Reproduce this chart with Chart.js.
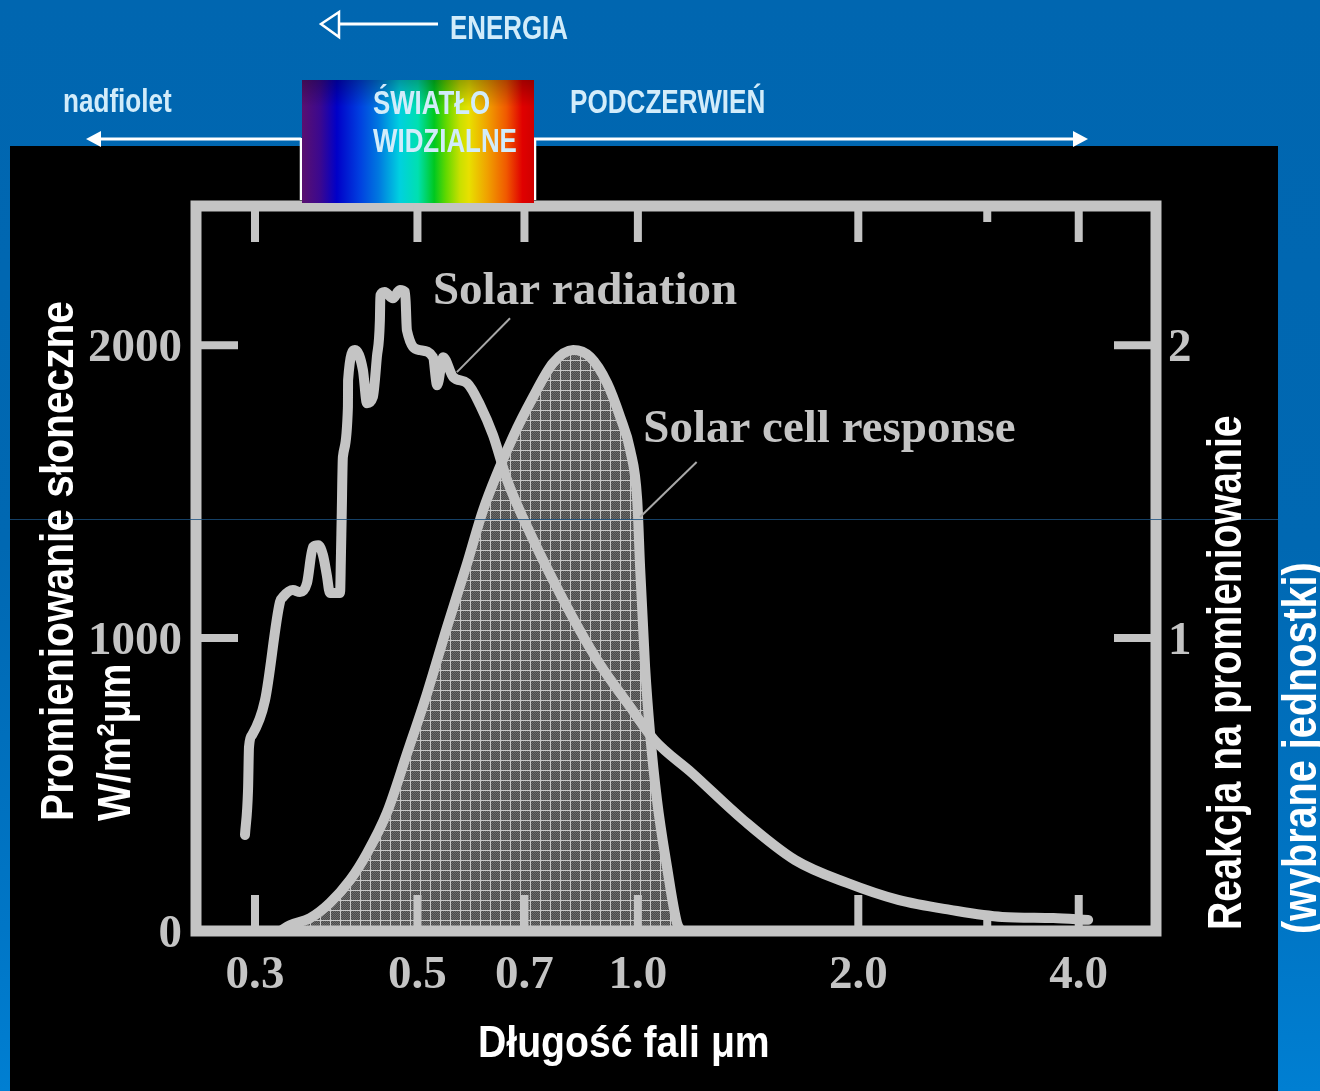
<!DOCTYPE html>
<html>
<head>
<meta charset="utf-8">
<script src="https://cdn.jsdelivr.net/npm/chart.js@4.4.1/dist/chart.umd.min.js"></script>
<style>
  html, body { margin: 0; padding: 0; }
  body {
    width: 1320px; height: 1091px; overflow: hidden; position: relative;
    background: linear-gradient(to bottom, #0066b0 0%, #0068b2 50%, #0076c6 85%, #007fd2 100%);
    font-family: "Liberation Sans", Arial, sans-serif;
  }
  #panel { position: absolute; left: 10px; top: 146px; width: 1268px; height: 945px; background: #000; }
  #chart { position: absolute; left: 0; top: 0; }
  #seam { position: absolute; left: 10px; top: 519px; width: 1268px; height: 1px; background: #1a5080; opacity: 0.8; }
  #arrows { position: absolute; left: 0; top: 0; }
  #spectrum {
    position: absolute; left: 302px; top: 80px; width: 232px; height: 123px;
    background:
      linear-gradient(to bottom, rgba(0,0,0,0.28) 0%, rgba(0,0,0,0) 22%),
      linear-gradient(to right, #5a1070 0%, #3a0890 8%, #0000c8 15%, #0040e0 25%, #0078e0 33%,
        #00d0e0 42%, #00e0b0 50%, #00c820 57%, #60d800 62%, #c8e000 68%, #e8e000 72%,
        #f0a000 80%, #f05a00 88%, #e00000 95%, #d00000 100%);
  }
  .lbl { position: absolute; white-space: nowrap; font-weight: bold; line-height: 1; transform-origin: 0 0; }
  .top { color: #d2ecfa; font-size: 34px; }
  .ax { color: #fff; }
</style>
</head>
<body>
<div id="panel"></div>
<canvas id="chart" width="1320" height="1091"></canvas>
<div id="seam"></div>
<svg id="arrows" width="1320" height="220">
  <line x1="101" y1="139" x2="301" y2="139" stroke="#fff" stroke-width="3"/>
  <polygon points="86,139 101,131 101,147" fill="#fff"/>
  <line x1="534" y1="139" x2="1074" y2="139" stroke="#fff" stroke-width="3"/>
  <polygon points="1088,139 1073,131 1073,147" fill="#fff"/>
  <line x1="301" y1="138" x2="301" y2="200" stroke="#fff" stroke-width="2.5"/>
  <line x1="535" y1="138" x2="535" y2="200" stroke="#fff" stroke-width="2.5"/>
  <polygon points="321,24 339,12 339,37" fill="none" stroke="#fff" stroke-width="2.5"/>
  <line x1="339" y1="24" x2="438" y2="24" stroke="#fff" stroke-width="3"/>
</svg>
<div id="spectrum"></div>

<div class="lbl top" style="left:450px; top:10px;" data-w="118">ENERGIA</div>
<div class="lbl top" style="left:63px; top:83px;" data-w="109">nadfiolet</div>
<div class="lbl top" style="left:373px; top:85px;" data-w="117">ŚWIATŁO</div>
<div class="lbl top" style="left:373px; top:123px;" data-w="144">WIDZIALNE</div>
<div class="lbl top" style="left:570px; top:84px;" data-w="195">PODCZERWIEŃ</div>

<div class="lbl ax" style="left:34px; top:821px; font-size:46px;" data-w="520" data-rot="1">Promieniowanie słoneczne</div>
<div class="lbl ax" style="left:91px; top:821px; font-size:46px;" data-w="157" data-rot="1">W/m²μm</div>
<div class="lbl ax" style="left:1201px; top:930px; font-size:48px;" data-w="515" data-rot="1">Reakcja na promieniowanie</div>
<div class="lbl ax" style="left:1276px; top:934px; font-size:48px;" data-w="372" data-rot="1">(wybrane jednostki)</div>
<div class="lbl ax" style="left:478px; top:1020px; font-size:44px;" data-w="292">Długość fali μm</div>

<script>
// axis ranges and ticks
const xMin = 0.2492, xMax = 5.10;
const yMax = 2475, y1Max = 2.475;
const xTicks = [0.3, 0.5, 0.7, 1.0, 2.0, 3.0, 4.0];
const xLabelled = [0.3, 0.5, 0.7, 1.0, 2.0, 4.0];
const yTicks = [0, 1000, 2000];
const y1Ticks = [1, 2];

// solar spectral irradiance, W/m2um (left axis)
const radWave = [0.2907, 0.2935, 0.2944, 0.2972, 0.3096, 0.3245, 0.3275, 0.338, 0.3456, 0.3533,
  0.360, 0.366, 0.3715, 0.376, 0.3797, 0.392, 0.393, 0.394, 0.3955, 0.4018,
  0.402, 0.4108, 0.4212, 0.4266, 0.4346, 0.4401, 0.4443, 0.445, 0.451, 0.4628,
  0.4731, 0.481, 0.4837, 0.504, 0.525, 0.532, 0.542, 0.5595, 0.5847, 0.609,
  0.634, 0.663, 0.7125, 0.791, 0.880, 0.976, 1.053, 1.186, 1.393, 1.640,
  1.931, 2.267, 2.671, 3.144, 3.693, 4.12];
const radValue = [328, 481, 628, 669, 788, 1123, 1140, 1164, 1157, 1188,
  1311, 1317, 1283, 1215, 1154, 1154, 1270, 1413, 1618, 1788,
  1880, 1983, 1915, 1802, 1823, 1959, 2085, 2170, 2181, 2160,
  2188, 2181, 2051, 1983, 1959, 1863, 1959, 1891, 1870, 1795,
  1693, 1539, 1358, 1130, 925, 765, 652, 539, 379, 242,
  164, 106, 72, 48, 44, 38];

// solar cell response, arbitrary units (right axis)
const cellWave = [0.325, 0.3348, 0.3567, 0.3797, 0.4045, 0.4267, 0.4541, 0.484, 0.5154, 0.5488,
  0.5847, 0.6147, 0.675, 0.7193, 0.766, 0.8158, 0.861, 0.908, 0.946, 0.976,
  0.998, 1.007, 1.023, 1.039, 1.062, 1.096, 1.131, 1.147];
const cellValue = [0, 0.02, 0.044, 0.096, 0.174, 0.266, 0.403, 0.607, 0.812, 1.038,
  1.256, 1.437, 1.686, 1.823, 1.939, 1.983, 1.959, 1.870, 1.754, 1.642,
  1.471, 1.242, 0.901, 0.676, 0.447, 0.218, 0.027, 0];

// in-plot notes: text anchor and leader line, in data units (x, left y)
const noteText = ["Solar radiation", "Solar cell response"];
const noteAt = [[0.525, 2181], [1.017, 1710]];
const noteLine = [[0.669, 2092, 0.566, 1908], [1.203, 1601, 1.007, 1413]];

const gray = "#c4c4c4";
const serif = "'Liberation Serif', 'DejaVu Serif', serif";

// stretch the html labels to the widths they have in the picture
document.querySelectorAll(".lbl").forEach((el) => {
  const s = Number(el.dataset.w) / el.offsetWidth;
  el.style.transform = (el.dataset.rot ? "rotate(-90deg) " : "") + "scaleX(" + s + ")";
});

function hatch() {
  const c = document.createElement("canvas");
  c.width = 10;
  c.height = 10;
  const g = c.getContext("2d");
  for (let i = 0; i < 10; i++) {
    for (let j = 0; j < 10; j++) {
      g.fillStyle = (i + j) % 2 ? "#4a4a4a" : "#6c6c6c";
      g.fillRect(i, j, 1, 1);
    }
  }
  g.fillStyle = "#c8c8c8";
  g.fillRect(0, 0, 10, 1);
  g.fillRect(0, 0, 1, 10);
  return g.createPattern(c, "repeat");
}

const framePlugin = {
  id: "frame",
  afterDatasetsDraw(chart) {
    const { ctx, chartArea: a, scales } = chart;
    ctx.save();
    ctx.strokeStyle = gray;
    ctx.lineWidth = 11;
    ctx.strokeRect(a.left, a.top, a.right - a.left, a.bottom - a.top);

    // inward tick marks
    ctx.lineWidth = 8;
    xTicks.forEach((v) => {
      const x = scales.x.getPixelForValue(v);
      const len = xLabelled.includes(v) ? 36 : 16;
      ctx.beginPath(); ctx.moveTo(x, a.top); ctx.lineTo(x, a.top + len); ctx.stroke();
      ctx.beginPath(); ctx.moveTo(x, a.bottom); ctx.lineTo(x, a.bottom - len); ctx.stroke();
    });
    yTicks.filter((v) => v > 0).forEach((v) => {
      const y = scales.y.getPixelForValue(v);
      ctx.beginPath(); ctx.moveTo(a.left, y); ctx.lineTo(a.left + 42, y); ctx.stroke();
    });
    y1Ticks.forEach((v) => {
      const y = scales.y1.getPixelForValue(v);
      ctx.beginPath(); ctx.moveTo(a.right, y); ctx.lineTo(a.right - 42, y); ctx.stroke();
    });

    // notes with leader lines
    ctx.lineWidth = 2;
    ctx.strokeStyle = "#a8a8a8";
    noteLine.forEach((l) => {
      ctx.beginPath();
      ctx.moveTo(scales.x.getPixelForValue(l[0]), scales.y.getPixelForValue(l[1]));
      ctx.lineTo(scales.x.getPixelForValue(l[2]), scales.y.getPixelForValue(l[3]));
      ctx.stroke();
    });
    ctx.fillStyle = gray;
    ctx.font = "bold 47px " + serif;
    ctx.textBaseline = "middle";
    ctx.textAlign = "left";
    noteText.forEach((t, i) => {
      ctx.fillText(t, scales.x.getPixelForValue(noteAt[i][0]), scales.y.getPixelForValue(noteAt[i][1]));
    });
    ctx.restore();
  },
};

const tickFont = { family: serif, size: 47, weight: "bold" };

new Chart(document.getElementById("chart"), {
  type: "line",
  data: {
    datasets: [
      {
        label: "Solar radiation",
        data: radWave.map((w, i) => ({ x: w, y: radValue[i] })),
        yAxisID: "y",
        borderColor: gray,
        borderWidth: 10,
        borderJoinStyle: "round",
        borderCapStyle: "round",
        pointRadius: 0,
        cubicInterpolationMode: "monotone",
        fill: false,
      },
      {
        label: "Solar cell response",
        data: cellWave.map((w, i) => ({ x: w, y: cellValue[i] })),
        yAxisID: "y1",
        borderColor: gray,
        borderWidth: 10,
        borderJoinStyle: "round",
        pointRadius: 0,
        cubicInterpolationMode: "monotone",
        fill: "origin",
        backgroundColor: hatch(),
      },
    ],
  },
  options: {
    responsive: false,
    animation: false,
    devicePixelRatio: 1,
    layout: { padding: { top: 206, left: 0, right: 0, bottom: 0 } },
    plugins: { legend: { display: false }, tooltip: { enabled: false } },
    scales: {
      x: {
        type: "logarithmic",
        min: xMin,
        max: xMax,
        afterBuildTicks: (s) => { s.ticks = xTicks.map((v) => ({ value: v })); },
        afterFit: (s) => { s.height = 160; },
        grid: { display: false, drawTicks: false },
        border: { display: false },
        ticks: {
          color: gray,
          font: tickFont,
          padding: 17,
          autoSkip: false,
          maxRotation: 0,
          callback: (v) => (xLabelled.includes(v) ? v.toFixed(1) : ""),
        },
      },
      y: {
        position: "left",
        min: 0,
        max: yMax,
        afterBuildTicks: (s) => { s.ticks = yTicks.map((v) => ({ value: v })); },
        afterFit: (s) => { s.width = 196; },
        grid: { display: false, drawTicks: false },
        border: { display: false },
        ticks: { color: gray, font: tickFont, padding: 14, labelOffset: 4, callback: (v) => String(v) },
      },
      y1: {
        position: "right",
        min: 0,
        max: y1Max,
        afterBuildTicks: (s) => { s.ticks = y1Ticks.map((v) => ({ value: v })); },
        afterFit: (s) => { s.width = 164; },
        grid: { display: false, drawTicks: false },
        border: { display: false },
        ticks: { color: gray, font: tickFont, padding: 12, labelOffset: 4, callback: (v) => String(v) },
      },
    },
  },
  plugins: [framePlugin],
});
</script>
</body>
</html>
